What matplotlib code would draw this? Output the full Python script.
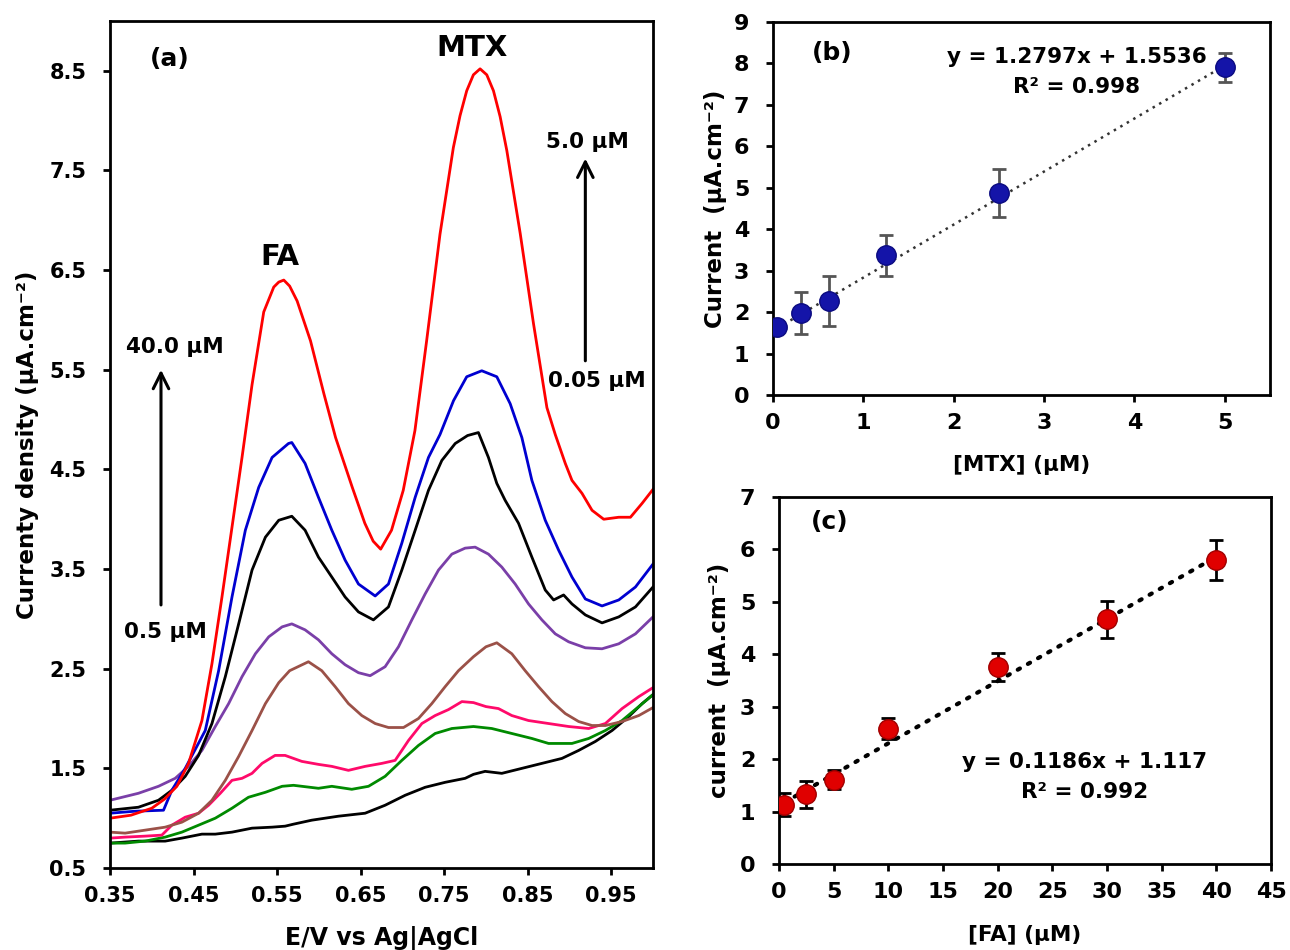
import matplotlib
matplotlib.use("Agg")
import matplotlib.pyplot as plt

plt.rcParams['font.family'] = ['DejaVu Sans']
plt.rcParams['font.weight'] = 'bold'

# ---------------- Panel (a) DPV curves ----------------
E_red = [0.35, 0.375, 0.40, 0.415, 0.43, 0.444, 0.46, 0.472, 0.484, 0.496, 0.508, 0.52, 0.534, 0.546, 0.552, 0.558,
         0.565, 0.574, 0.59, 0.606, 0.62, 0.64, 0.655, 0.665, 0.674, 0.687, 0.701, 0.715, 0.729, 0.745, 0.761,
         0.769, 0.777, 0.785, 0.793, 0.801, 0.809, 0.817, 0.825, 0.841, 0.857, 0.873, 0.883, 0.895, 0.903, 0.915,
         0.927, 0.941, 0.959, 0.973, 0.987, 1.00]
j_red = [1.00, 1.03, 1.10, 1.19, 1.32, 1.55, 1.98, 2.55, 3.22, 3.92, 4.62, 5.35, 6.08, 6.33, 6.38, 6.40,
         6.34, 6.19, 5.79, 5.26, 4.82, 4.32, 3.96, 3.78, 3.70, 3.89, 4.29, 4.89, 5.79, 6.86, 7.73,
         8.05, 8.30, 8.46, 8.52, 8.46, 8.30, 8.04, 7.70, 6.87, 5.96, 5.12, 4.85, 4.56, 4.39, 4.26,
         4.09, 4.00, 4.02, 4.02, 4.16, 4.30]

E_blue = [0.35, 0.38, 0.414, 0.424, 0.44, 0.464, 0.48, 0.496, 0.512, 0.528, 0.544, 0.5636, 0.5676, 0.5835, 0.5995,
          0.6155, 0.6314, 0.6474, 0.6674, 0.6833, 0.6993, 0.7153, 0.7312, 0.745, 0.7612, 0.777, 0.795, 0.813, 0.829,
          0.843, 0.855, 0.871, 0.887, 0.903, 0.919, 0.939, 0.959, 0.979, 1.00]
j_blue = [1.05, 1.07, 1.08, 1.28, 1.50, 1.88, 2.48, 3.22, 3.89, 4.32, 4.62, 4.76, 4.77, 4.56, 4.22,
          3.89, 3.59, 3.35, 3.23, 3.35, 3.76, 4.22, 4.62, 4.85, 5.19, 5.43, 5.49, 5.43, 5.16,
          4.82, 4.39, 3.99, 3.69, 3.42, 3.20, 3.13, 3.19, 3.32, 3.55]

E_black = [0.35, 0.384, 0.408, 0.424, 0.44, 0.456, 0.472, 0.488, 0.504, 0.52, 0.536, 0.552, 0.5676, 0.5835, 0.5995,
           0.6155, 0.6314, 0.6474, 0.6653, 0.6833, 0.6993, 0.7153, 0.7312, 0.7472, 0.7632, 0.778, 0.791, 0.803, 0.813,
           0.823, 0.839, 0.855, 0.871, 0.881, 0.893, 0.903, 0.919, 0.939, 0.959, 0.979, 1.00]
j_black = [1.08, 1.11, 1.18, 1.28, 1.42, 1.63, 1.95, 2.42, 2.95, 3.49, 3.82, 3.99, 4.03, 3.89, 3.62,
           3.42, 3.22, 3.07, 2.99, 3.12, 3.49, 3.89, 4.29, 4.59, 4.76, 4.84, 4.87, 4.62, 4.36,
           4.19, 3.96, 3.62, 3.29, 3.19, 3.24, 3.15, 3.04, 2.96, 3.02, 3.12, 3.32]

E_purple = [0.35, 0.384, 0.408, 0.428, 0.444, 0.46, 0.476, 0.492, 0.508, 0.524, 0.54, 0.556, 0.5676, 0.5835, 0.5995,
            0.6155, 0.6314, 0.6474, 0.6614, 0.6793, 0.6953, 0.7113, 0.7272, 0.7432, 0.7592, 0.7751, 0.7871, 0.803,
            0.819, 0.835, 0.851, 0.867, 0.883, 0.899, 0.919, 0.939, 0.959, 0.979, 1.00]
j_purple = [1.18, 1.25, 1.32, 1.40, 1.52, 1.68, 1.92, 2.15, 2.42, 2.65, 2.82, 2.92, 2.95, 2.89, 2.79,
            2.65, 2.54, 2.46, 2.43, 2.52, 2.72, 2.99, 3.25, 3.49, 3.65, 3.71, 3.72, 3.65,
            3.52, 3.35, 3.15, 2.99, 2.85, 2.77, 2.71, 2.70, 2.75, 2.85, 3.02]

E_brown = [0.35, 0.368, 0.392, 0.416, 0.436, 0.456, 0.472, 0.488, 0.504, 0.52, 0.536, 0.552, 0.565, 0.5875, 0.6035,
           0.6195, 0.6354, 0.6514, 0.6674, 0.6833, 0.7013, 0.7192, 0.7352, 0.7512, 0.7671, 0.785, 0.80, 0.813,
           0.831, 0.847, 0.863, 0.879, 0.895, 0.911, 0.927, 0.943, 0.963, 0.983, 1.00]
j_brown = [0.86, 0.85, 0.88, 0.91, 0.96, 1.05, 1.18, 1.38, 1.62, 1.88, 2.15, 2.36, 2.48, 2.57, 2.48,
           2.32, 2.15, 2.03, 1.95, 1.91, 1.91, 2.00, 2.15, 2.32, 2.48, 2.62, 2.72, 2.76,
           2.65, 2.48, 2.32, 2.17, 2.05, 1.97, 1.93, 1.93, 1.97, 2.03, 2.11]

E_pink = [0.35, 0.368, 0.392, 0.412, 0.424, 0.44, 0.456, 0.468, 0.482, 0.496, 0.508, 0.52, 0.532, 0.5476, 0.5596,
          0.5796, 0.5995, 0.6155, 0.6354, 0.6554, 0.6754, 0.6913, 0.7073, 0.7233, 0.7392, 0.7552, 0.7712, 0.7851,
          0.80, 0.815, 0.831, 0.851, 0.875, 0.899, 0.923, 0.943, 0.963, 0.983, 1.00]
j_pink = [0.80, 0.81, 0.82, 0.83, 0.93, 1.01, 1.05, 1.13, 1.25, 1.38, 1.40, 1.45, 1.55, 1.63, 1.63,
          1.57, 1.54, 1.52, 1.48, 1.52, 1.55, 1.58, 1.78, 1.95, 2.03, 2.09, 2.17, 2.16,
          2.12, 2.10, 2.03, 1.98, 1.95, 1.92, 1.90, 1.95, 2.10, 2.22, 2.31]

E_green = [0.35, 0.368, 0.392, 0.416, 0.436, 0.456, 0.476, 0.496, 0.5157, 0.536, 0.556, 0.5696, 0.5796, 0.5995,
           0.6155, 0.6394, 0.6594, 0.6793, 0.6993, 0.7192, 0.7392, 0.7592, 0.7851, 0.807, 0.831, 0.855, 0.875,
           0.903, 0.923, 0.943, 0.963, 0.983, 1.00]
j_green = [0.75, 0.75, 0.77, 0.81, 0.86, 0.93, 1.00, 1.10, 1.21, 1.26, 1.32, 1.33, 1.32, 1.30,
           1.32, 1.29, 1.32, 1.42, 1.58, 1.73, 1.85, 1.90, 1.92, 1.90, 1.85, 1.80, 1.75,
           1.75, 1.80, 1.88, 1.98, 2.12, 2.24]

E_blank = [0.35, 0.384, 0.416, 0.436, 0.46, 0.476, 0.496, 0.52, 0.544, 0.5596, 0.5696, 0.5915, 0.6234, 0.6554,
           0.6793, 0.7033, 0.7272, 0.7512, 0.7751, 0.7851, 0.799, 0.819, 0.843, 0.867, 0.891, 0.911, 0.931, 0.951,
           0.971, 0.987, 1.00]
j_blank = [0.75, 0.77, 0.77, 0.80, 0.84, 0.84, 0.86, 0.90, 0.91, 0.92, 0.94, 0.98, 1.02, 1.05,
           1.13, 1.23, 1.31, 1.36, 1.40, 1.44, 1.47, 1.45, 1.50, 1.55, 1.60, 1.68, 1.77, 1.88,
           2.02, 2.15, 2.24]

curves = [
    (E_blank, j_blank, '#000000'),
    (E_green, j_green, '#008a00'),
    (E_pink, j_pink, '#ff0a6a'),
    (E_brown, j_brown, '#9b5148'),
    (E_purple, j_purple, '#7a3fa8'),
    (E_black, j_black, '#000000'),
    (E_blue, j_blue, '#0000d0'),
    (E_red, j_red, '#ff0000'),
]

a_xticks = [0.35, 0.45, 0.55, 0.65, 0.75, 0.85, 0.95]
a_yticks = [0.5, 1.5, 2.5, 3.5, 4.5, 5.5, 6.5, 7.5, 8.5]

# ---------------- Panel (b) MTX calibration ----------------
mtx_conc = [0.05, 0.31, 0.62, 1.25, 2.5, 5.0]
mtx_cur = [1.64, 1.98, 2.26, 3.37, 4.87, 7.91]
mtx_err = [0.08, 0.50, 0.60, 0.50, 0.58, 0.35]
mtx_slope, mtx_icpt = 1.2797, 1.5536

# ---------------- Panel (c) FA calibration ----------------
fa_conc = [0.5, 2.5, 5, 10, 20, 30, 40]
fa_cur = [1.13, 1.33, 1.61, 2.58, 3.76, 4.67, 5.80]
fa_err = [0.22, 0.26, 0.18, 0.20, 0.26, 0.35, 0.39]
fa_slope, fa_icpt = 0.1186, 1.117

fig = plt.figure(figsize=(12.9, 9.5), dpi=100)


def style_axes(ax, fs):
    for s in ax.spines.values():
        s.set_linewidth(2.0)
        s.set_color('black')
    ax.tick_params(direction='out', length=5, width=2, labelsize=fs)
    ax.tick_params(axis='y', pad=12)
    ax.tick_params(axis='x', pad=8)
    for lab in ax.get_xticklabels() + ax.get_yticklabels():
        lab.set_fontweight('bold')


# ---- (a)
axa = fig.add_axes([0.0853, 0.0863, 0.4209, 0.8916])
for E, j, c in curves:
    axa.plot(E, j, color=c, lw=2.0, solid_joinstyle='round')
axa.set_xlim(0.35, 1.0)
axa.set_ylim(0.5, 9.0)
axa.set_xticks(a_xticks)
axa.set_xticklabels([f"{t:.2f}" for t in a_xticks])
axa.set_yticks(a_yticks)
axa.set_yticklabels([f"{t:.1f}" for t in a_yticks])
style_axes(axa, 15)
axa.set_xlabel("E/V vs Ag|AgCl", fontsize=17, fontweight='bold')
axa.set_ylabel("Currenty density (µA.cm⁻²)", fontsize=16.5, fontweight='bold')
axa.xaxis.set_label_coords(0.5, -0.068)
axa.yaxis.set_label_coords(-0.131, 0.5)
axa.text(0.422, 8.62, "(a)", fontsize=18, fontweight='bold', ha='center', va='center')
axa.text(0.7835, 8.73, "MTX", fontsize=21, fontweight='bold', ha='center', va='center')
axa.text(0.5536, 6.63, "FA", fontsize=21, fontweight='bold', ha='center', va='center')
axa.text(0.428, 5.73, "40.0 µM", fontsize=15.5, fontweight='bold', ha='center', va='center')
axa.text(0.416, 2.87, "0.5 µM", fontsize=15.5, fontweight='bold', ha='center', va='center')
axa.text(0.922, 7.79, "5.0 µM", fontsize=15.5, fontweight='bold', ha='center', va='center')
axa.text(0.933, 5.39, "0.05 µM", fontsize=15.5, fontweight='bold', ha='center', va='center')
axa.annotate("", xy=(0.411, 5.50), xytext=(0.411, 3.14),
             arrowprops=dict(arrowstyle='->', lw=2.2, color='black', mutation_scale=28,
                             shrinkA=0, shrinkB=0))
axa.annotate("", xy=(0.919, 7.62), xytext=(0.919, 5.59),
             arrowprops=dict(arrowstyle='->', lw=2.2, color='black', mutation_scale=28,
                             shrinkA=0, shrinkB=0))

# ---- (b)
axb = fig.add_axes([0.5992, 0.5842, 0.3853, 0.3926])
axb.plot([mtx_conc[0], mtx_conc[-1]],
         [mtx_slope * mtx_conc[0] + mtx_icpt, mtx_slope * mtx_conc[-1] + mtx_icpt],
         color='#333333', lw=1.8, ls=(0, (1, 2)), zorder=2)
axb.errorbar(mtx_conc, mtx_cur, yerr=mtx_err, fmt='none', ecolor='#555555',
             elinewidth=2, capsize=5, capthick=2, zorder=3)
axb.plot(mtx_conc, mtx_cur, 'o', ms=14, mfc='#1414a8', mec='#0a0a80', mew=1.0, zorder=4)
axb.set_xlim(0, 5.5)
axb.set_ylim(0, 9)
axb.set_xticks([0, 1, 2, 3, 4, 5])
axb.set_yticks(range(0, 10))
style_axes(axb, 16)
axb.set_xlabel("[MTX] (µM)", fontsize=15.5, fontweight='bold')
axb.set_ylabel("Current  (µA.cm⁻²)", fontsize=16.5, fontweight='bold')
axb.xaxis.set_label_coords(0.5, -0.161)
axb.yaxis.set_label_coords(-0.093, 0.5)
axb.text(0.65, 8.26, "(b)", fontsize=18, fontweight='bold', ha='center', va='center')
axb.text(3.36, 8.16, "y = 1.2797x + 1.5536", fontsize=15.5, fontweight='bold', ha='center', va='center')
axb.text(3.36, 7.44, "R² = 0.998", fontsize=15.5, fontweight='bold', ha='center', va='center')

# ---- (c)
axc = fig.add_axes([0.6039, 0.0905, 0.3814, 0.3863])
axc.plot([fa_conc[0], fa_conc[-1]],
         [fa_slope * fa_conc[0] + fa_icpt, fa_slope * fa_conc[-1] + fa_icpt],
         color='black', lw=3.0, ls=(0, (0.6, 2.2)), dash_capstyle='round', zorder=2)
axc.errorbar(fa_conc, fa_cur, yerr=fa_err, fmt='none', ecolor='black',
             elinewidth=2, capsize=5, capthick=2, zorder=3)
axc.plot(fa_conc, fa_cur, 'o', ms=14, mfc='#e00000', mec='#a00000', mew=1.0, zorder=4)
axc.set_xlim(0, 45)
axc.set_ylim(0, 7)
axc.set_xticks(range(0, 50, 5))
axc.set_yticks(range(0, 8))
style_axes(axc, 16)
axc.set_xlabel("[FA] (µM)", fontsize=15.5, fontweight='bold')
axc.set_ylabel("current  (µA.cm⁻²)", fontsize=16.5, fontweight='bold')
axc.xaxis.set_label_coords(0.5, -0.166)
axc.yaxis.set_label_coords(-0.097, 0.5)
axc.text(4.67, 6.53, "(c)", fontsize=18, fontweight='bold', ha='center', va='center')
axc.text(27.9, 1.95, "y = 0.1186x + 1.117", fontsize=15.5, fontweight='bold', ha='center', va='center')
axc.text(27.9, 1.38, "R² = 0.992", fontsize=15.5, fontweight='bold', ha='center', va='center')

fig.savefig("out.png", dpi=100)
